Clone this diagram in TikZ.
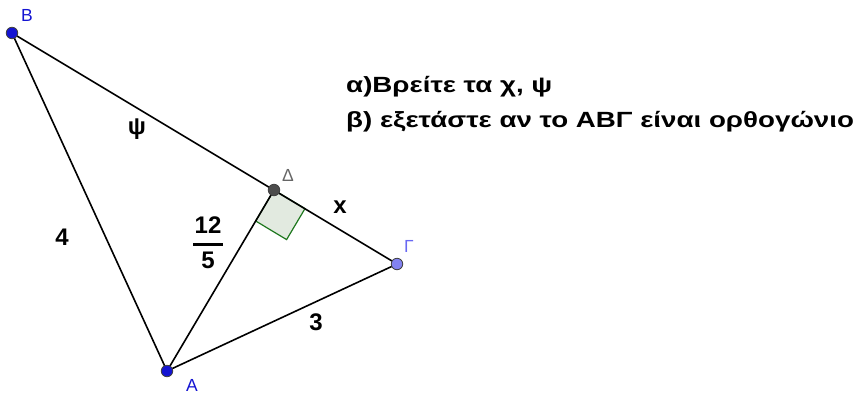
\documentclass[tikz,border=0pt]{standalone}
\usepackage{fontspec}
\setmainfont{Liberation Sans}
\newfontfamily\wideqfont[FakeStretch=1.26]{Liberation Sans}
\usetikzlibrary{positioning}
\definecolor{ptblue}{RGB}{20,20,210}
\definecolor{ptlight}{RGB}{130,130,240}
\definecolor{angfill}{RGB}{226,234,224}
\definecolor{anggreen}{RGB}{30,120,30}
\tikzstyle{vertex} = [circle, inner sep=0pt, minimum size=11.5pt, draw=black!75, line width=0.8pt, fill=ptblue]
\tikzstyle{vlabel} = [font=\fontsize{17.5}{19}\selectfont, text=ptblue, inner sep=0pt]
\tikzstyle{side} = [draw=black, line width=1.6pt]
\tikzstyle{measure} = [font=\bfseries\fontsize{24}{27}\selectfont]
\tikzstyle{question} = [font=\wideqfont\bfseries\fontsize{22}{26}\selectfont, anchor=base west, inner sep=0pt]
\tikzstyle{rightangle} = [draw=anggreen, fill=angfill, line width=1.2pt]

\begin{document}
\begin{tikzpicture}[x=1pt, y=-1pt]
    \useasboundingbox (0,0) rectangle (858,394);
    \coordinate (B) at (12,33);
    \coordinate (D) at (274,190);
    \coordinate (G) at (397,264);
    \coordinate (A) at (167,371);
    \coordinate (DG) at (305,208.6);
    \coordinate (DA) at (255.7,221);
    \coordinate (DX) at (286.6,239.6);

    \draw [rightangle] (D) -- (DG) -- (DX) -- (DA) -- cycle;
    \draw [side] (B) -- (G) -- (A) -- cycle;
    \draw [side] (A) -- (D);

    \node (dotB) [vertex] at (B) {};
    \node (dotD) [vertex, fill=black!70] at (D) {};
    \node (dotG) [vertex, fill=ptlight] at (G) {};
    \node (dotA) [vertex] at (A) {};

    \node (labB) [vlabel] at (27,15) {Β};
    \node (labD) [vlabel, text=black!60] at (288,175) {Δ};
    \node (labG) [vlabel, text=ptlight!80!blue] at (409,246) {Γ};
    \node (labA) [vlabel] at (192,385) {Α};

    \node (psi) [measure] at (137,129) {ψ};
    \node (four) [measure] at (62,237) {4};
    \node (x) [measure] at (340,207) {x};
    \node (three) [measure] at (316,322) {3};
    \node (num) [measure, anchor=base] at (208,233) {12};
    \node (den) [measure, anchor=base] at (208,268) {5};
    \draw [line width=3pt] (193,244.5) -- (223,244.5);

    \node (qa) [question] at (346,92) {α)Βρείτε τα χ, ψ};
    \node (qb) [question] at (346,127) {β) εξετάστε αν το ΑΒΓ είναι ορθογώνιο};
\end{tikzpicture}
\end{document}
